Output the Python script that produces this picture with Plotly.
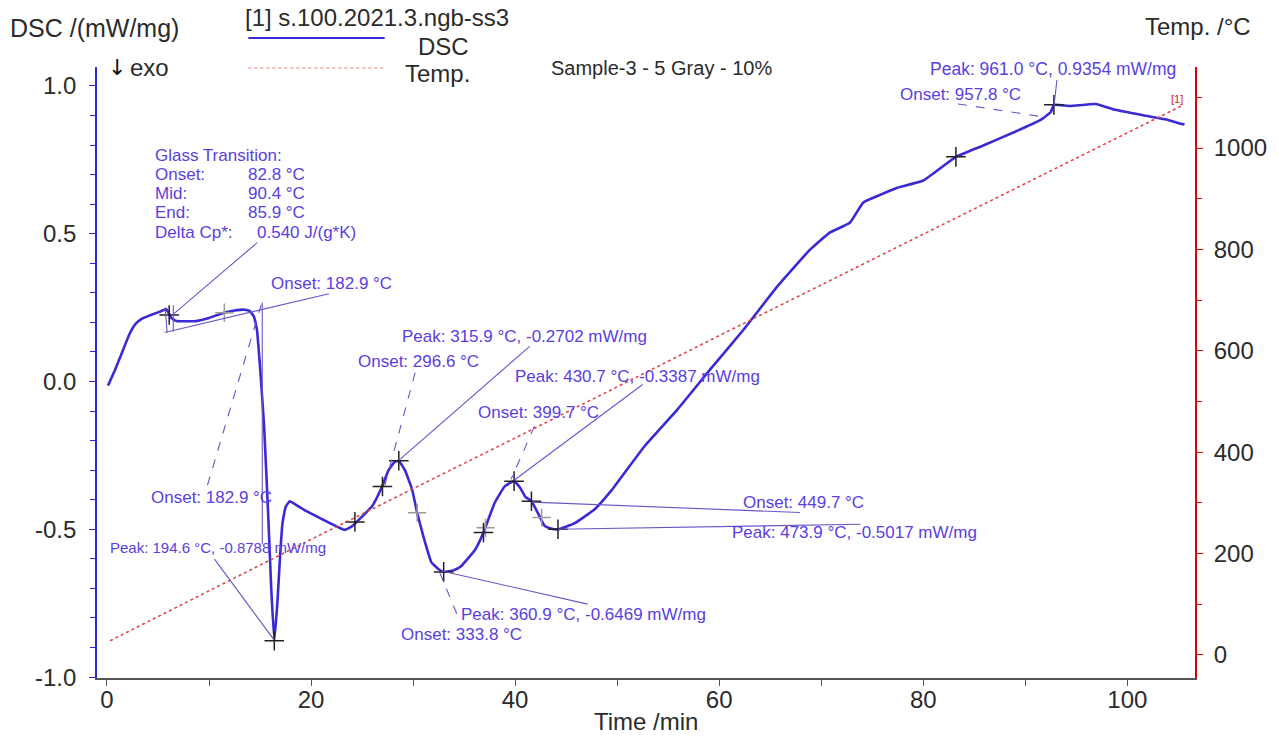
import plotly.graph_objects as go

# ---------------- data ----------------
dsc_time = [0.1, 0.8, 1.5, 2.2, 2.8, 3.4, 4.3, 5.3, 5.8, 6.0, 6.3, 6.8, 8.6, 10.0, 11.5, 12.5, 13.5, 14.0,
            14.4, 14.7, 15.0, 15.4, 15.8, 16.1, 16.4, 16.7, 16.95, 17.2, 17.5, 17.9, 18.3, 19.5,
            21.1, 22.5, 23.3, 24.0, 24.5, 26.0, 26.9, 27.6, 28.2, 28.6, 29.2, 29.9, 30.4, 31.0, 31.8,
            32.5, 33.0, 34.0, 34.7, 36.1, 36.9, 38.0, 39.0, 39.9, 40.5, 41.0, 41.6, 42.2, 42.9,
            43.5, 44.2, 45.8, 47.8, 49.4, 52.7, 55.9, 59.1, 62.4, 65.7, 68.9, 70.8, 72.8, 74.1,
            75.4, 77.4, 80.0, 83.2, 86.0, 89.0, 91.5, 92.5, 92.8, 94.4, 96.9, 98.8, 101.8, 104.0,
            105.2, 105.6]
dsc_vals = [-0.014, 0.04, 0.10, 0.16, 0.195, 0.212, 0.225, 0.238, 0.245, 0.235, 0.215, 0.205, 0.204,
            0.215, 0.233, 0.24, 0.243, 0.238, 0.22, 0.175, 0.05, -0.15, -0.45, -0.70, -0.877, -0.75,
            -0.60, -0.48, -0.425, -0.405, -0.412, -0.438, -0.466, -0.49, -0.502, -0.49, -0.474,
            -0.421, -0.36, -0.30, -0.272, -0.268, -0.30, -0.365, -0.444, -0.523, -0.612, -0.635,
            -0.644, -0.638, -0.625, -0.568, -0.511, -0.41, -0.354, -0.337, -0.36, -0.39, -0.405,
            -0.443, -0.489, -0.497, -0.50, -0.48, -0.432, -0.37, -0.218, -0.095, 0.04, 0.176, 0.322,
            0.446, 0.503, 0.537, 0.605, 0.626, 0.655, 0.68, 0.76, 0.80, 0.845, 0.885, 0.912, 0.936,
            0.932, 0.939, 0.919, 0.899, 0.885, 0.872, 0.87]

temp_time = [0.3, 20, 40, 60, 80, 100, 105.5]
temp_vals = [28, 228, 428, 630, 830, 1030, 1085]

# axis tick labels
x_ticks = [0, 20, 40, 60, 80, 100]
y_ticks = [-1.0, -0.5, 0.0, 0.5, 1.0]
y_tick_text = ["-1.0", "-0.5", "0.0", "0.5", "1.0"]
y2_ticks = [0, 200, 400, 600, 800, 1000]

# evaluation marks ("+") on the DSC curve
black_cross_t = [6.1, 16.4, 24.3, 27.0, 28.6, 33.0, 36.9, 39.9, 41.6, 44.2, 83.2, 92.8]
black_cross_v = [0.225, -0.877, -0.475, -0.355, -0.268, -0.644, -0.511, -0.337, -0.405, -0.50, 0.76, 0.936]
gray_cross_t = [11.5, 30.4, 37.1, 42.6]
gray_cross_v = [0.233, -0.444, -0.495, -0.46]

# evaluation labels: (text, time, dsc, size)
labels = [
    ("Glass Transition:", 4.49, 0.764, 17),
    ("Onset:", 4.49, 0.699, 17), ("82.8 °C", 13.63, 0.699, 17),
    ("Mid:", 4.49, 0.635, 17), ("90.4 °C", 13.63, 0.635, 17),
    ("End:", 4.49, 0.571, 17), ("85.9 °C", 13.63, 0.571, 17),
    ("Delta Cp*:", 4.49, 0.503, 17), ("0.540 J/(g*K)", 14.51, 0.503, 17),
    ("Onset: 182.9 °C", 15.9, 0.331, 17),
    ("Onset: 182.9 °C", 4.1, -0.392, 17),
    ("Peak: 194.6 °C, -0.8788 mW/mg", 0.1, -0.561, 15),
    ("Peak: 315.9 °C, -0.2702 mW/mg", 28.75, 0.153, 17),
    ("Onset: 296.6 °C", 24.36, 0.069, 17),
    ("Peak: 430.7 °C, -0.3387 mW/mg", 39.8, 0.018, 17),
    ("Onset: 399.7 °C", 36.2, -0.106, 17),
    ("Onset: 449.7 °C", 62.1, -0.408, 17),
    ("Peak: 473.9 °C, -0.5017 mW/mg", 61.1, -0.511, 17),
    ("Peak: 360.9 °C, -0.6469 mW/mg", 34.5, -0.787, 17),
    ("Onset: 333.8 °C", 28.6, -0.855, 17),
    ("Peak: 961.0 °C, 0.9354 mW/mg", 80.5, 1.057, 17.5),
    ("Onset: 957.8 °C", 77.5, 0.970, 17),
]

# leader / tangent lines: (t0, v0, t1, v1, dash)
leaders = [
    (14.73, 0.470, 6.34, 0.223, "solid"),
    (21.76, 0.297, 5.66, 0.166, "solid"),
    (15.22, 0.267, 15.22, -0.55, "solid"),
    (9.85, -0.351, 15.12, 0.260, "dash"),
    (10.54, -0.601, 16.39, -0.875, "solid"),
    (30.2, 0.030, 27.2, -0.355, "dash"),
    (41.43, 0.119, 28.6, -0.267, "solid"),
    (41.9, -0.151, 39.6, -0.331, "dash"),
    (52.5, -0.010, 39.9, -0.334, "solid"),
    (41.66, -0.408, 67.9, -0.443, "solid"),
    (44.2, -0.50, 73.85, -0.483, "solid"),
    (32.8, -0.641, 47.1, -0.753, "solid"),
    (32.6, -0.645, 34.5, -0.804, "dash"),
    (83.4, 0.939, 91.8, 0.895, "dash"),
    (93.1, 1.02, 92.8, 0.929, "solid"),
    (5.7, 0.250, 5.9, 0.165, "solid"),
    (6.5, 0.258, 6.5, 0.168, "solid"),
]

# ---------------- styling ----------------
FONT = "Liberation Sans, Arial, sans-serif"
DSC_COL = "#3a2ad6"
ANN_COL = "#5a3ee0"
LEAD_COL = "#6a55c8"
TXT = "#2b2b2b"

W, H = 1279, 737
L, R, T, B = 97, 1200, 67, 678


def PX(x):
    return (x - L) / (R - L)


def PY(y):
    return (B - y) / (B - T)


fig = go.Figure()

fig.add_trace(go.Scatter(x=temp_time, y=temp_vals, yaxis="y2", mode="lines",
                         line=dict(color="#e04848", width=1.6, dash="dot"),
                         showlegend=False, hoverinfo="skip"))

for (t0, v0, t1, v1, d) in leaders:
    fig.add_shape(type="line", x0=t0, y0=v0, x1=t1, y1=v1, xref="x", yref="y",
                  line=dict(color=LEAD_COL, width=1.1, dash=d))

fig.add_trace(go.Scatter(x=dsc_time, y=dsc_vals, mode="lines",
                         line=dict(color=DSC_COL, width=2.6, shape="spline", smoothing=0.35),
                         showlegend=False, hoverinfo="skip"))

fig.add_trace(go.Scatter(x=gray_cross_t, y=gray_cross_v, mode="markers",
                         marker=dict(symbol="cross-thin", size=13, line=dict(color="#9a9a9a", width=1.5)),
                         showlegend=False, hoverinfo="skip"))
fig.add_trace(go.Scatter(x=black_cross_t, y=black_cross_v, mode="markers",
                         marker=dict(symbol="cross-thin", size=14, line=dict(color="#222222", width=1.5)),
                         showlegend=False, hoverinfo="skip"))

for (txt, t, v, s) in labels:
    fig.add_annotation(x=t, y=v, xref="x", yref="y", text=txt, showarrow=False,
                       xanchor="left", yanchor="middle",
                       font=dict(family=FONT, size=s, color=ANN_COL))


# header texts
def ptext(txt, x, y, size=24, anchor="left", color=TXT, family=FONT):
    fig.add_annotation(x=PX(x), y=PY(y), xref="paper", yref="paper", text=txt,
                       showarrow=False, xanchor=anchor, yanchor="middle",
                       font=dict(family=family, size=size, color=color))


ptext("DSC /(mW/mg)", 8, 28, size=25)
ptext("Temp. /°C", 1258, 27, anchor="right")
ptext("Time /min", 648, 721, anchor="center")
ptext("[1] s.100.2021.3.ngb-ss3", 244, 18)
ptext("DSC", 417, 47)
ptext("Temp.", 404, 73)
ptext("↓", 106, 68, family="DejaVu Sans", color="#111111", size=22)
ptext("exo", 128, 68)
ptext("Sample-3 - 5 Gray - 10%", 777, 68, size=20, anchor="right")
ptext("[1]", 1182, 99, size=11, anchor="center", color="#d02020")

fig.add_shape(type="line", xref="paper", yref="paper", x0=PX(249), x1=PX(386), y0=PY(38), y1=PY(38),
              line=dict(color=DSC_COL, width=1.8))
fig.add_shape(type="line", xref="paper", yref="paper", x0=PX(249), x1=PX(386), y0=PY(68), y1=PY(68),
              line=dict(color="#f0a8a8", width=1.5, dash="dot"))

tickfont = dict(family=FONT, size=24, color=TXT)

fig.update_layout(
    width=W, height=H,
    margin=dict(l=L, r=W - R, t=T, b=H - B, pad=0),
    paper_bgcolor="white", plot_bgcolor="white",
    showlegend=False,
    xaxis=dict(range=[-0.976, 106.63], showgrid=False, zeroline=False,
               showline=True, linecolor="#555555", linewidth=1.5,
               ticks="outside", ticklen=6, tickcolor="#555555", tickwidth=1.2,
               tickmode="array", tickvals=x_ticks, tickfont=tickfont,
               ticklabelstandoff=-7,
               minor=dict(dtick=10, tick0=0, ticks="outside", ticklen=6, tickcolor="#555555")),
    yaxis=dict(range=[-1.003, 1.064], showgrid=False, zeroline=False,
               showline=True, linecolor="#2a2ad0", linewidth=1.8,
               ticks="outside", ticklen=6, tickcolor="#2a2ad0", tickwidth=1.2,
               tickmode="array", tickvals=y_ticks, ticktext=y_tick_text, tickfont=tickfont,
               ticklabelstandoff=8,
               minor=dict(dtick=0.1, tick0=0, ticks="outside", ticklen=5, tickcolor="#2a2ad0")),
    yaxis2=dict(range=[-45.4, 1159.8], overlaying="y", side="right", showgrid=False,
                zeroline=False, showline=True, linecolor="#e00000", linewidth=1.8,
                ticks="outside", ticklen=6, tickcolor="#e00000", tickwidth=1.2,
                tickmode="array", tickvals=y2_ticks, tickfont=tickfont, ticklabelstandoff=6,
                minor=dict(dtick=100, tick0=0, ticks="outside", ticklen=5, tickcolor="#e00000")),
)

fig.write_html("out.html")
